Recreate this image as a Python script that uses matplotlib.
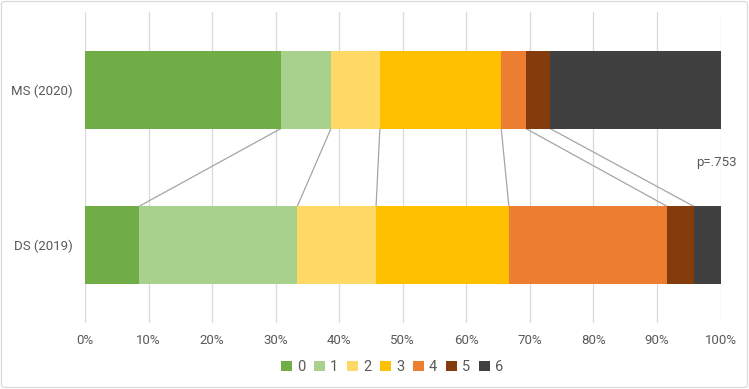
import numpy as np
import matplotlib
matplotlib.use("Agg")
import matplotlib.pyplot as plt
from matplotlib.patches import FancyBboxPatch

plt.rcParams['font.family'] = ['Roboto', 'DejaVu Sans']

# data (percent of respondents per level)
groups = ["DS (2019)", "MS (2020)"]
levels = ["0", "1", "2", "3", "4", "5", "6"]
ds_2019 = [8.5, 24.9, 12.4, 20.9, 24.9, 4.2, 4.2]
ms_2020 = [30.8, 7.9, 7.7, 19.1, 3.9, 3.8, 26.8]
colors = ["#70AD47", "#A9D18E", "#FFD966", "#FFC000", "#ED7D31", "#843C0C", "#404040"]
p_label = "p=.753"

fig = plt.figure(figsize=(7.49, 3.89), dpi=100)
ax = fig.add_axes([85 / 749, 66 / 389, 635.5 / 749, 311 / 389])

values = np.array([ds_2019, ms_2020]) / 100.0
ypos = np.arange(len(groups))
left = np.zeros(len(groups))
for i, lev in enumerate(levels):
    ax.barh(ypos, values[:, i], left=left, height=0.5, color=colors[i],
            label=lev, zorder=3)
    left = left + values[:, i]

# series lines between the two bars
cum_ds = np.cumsum(values[0])[:-1]
cum_ms = np.cumsum(values[1])[:-1]
for a, b in zip(cum_ms, cum_ds):
    ax.plot([a, b], [1 - 0.25, 0 + 0.25], color="#A5A5A5", lw=0.9, zorder=2)

ax.set_xlim(0, 1)
ax.set_ylim(-0.5, 1.5)
ax.set_xticks(np.arange(0, 1.01, 0.1))
ax.set_xticklabels([f"{int(round(t * 100))}%" for t in np.arange(0, 1.01, 0.1)])
ax.set_yticks(ypos)
ax.set_yticklabels(groups)
ax.xaxis.grid(True, color="#D9D9D9", lw=0.9, zorder=0)
ax.tick_params(axis="both", length=0, labelsize=9.5, colors="#595959")
ax.tick_params(axis="x", pad=8)
ax.tick_params(axis="y", pad=9)
for s in ax.spines.values():
    s.set_visible(False)

ax.text(1.026, 0.53, p_label, transform=ax.transData, ha="right", va="center",
        fontsize=9.5, color="#595959")

handles, labels = ax.get_legend_handles_labels()
fig.legend(handles, labels, loc="center", bbox_to_anchor=(392 / 749, 1 - 367 / 389),
           ncol=7, frameon=False, handlelength=0.75, handleheight=0.75,
           handletextpad=0.35, columnspacing=0.6, fontsize=10.5, labelcolor="#595959")

border = FancyBboxPatch((1.5 / 749, 1.5 / 389), 746 / 749, 386 / 389,
                        boxstyle="round,pad=0,rounding_size=0.006",
                        transform=fig.transFigure, fill=False,
                        edgecolor="#D9D9D9", lw=0.9)
fig.patches.append(border)

fig.savefig("out.png", dpi=100)
